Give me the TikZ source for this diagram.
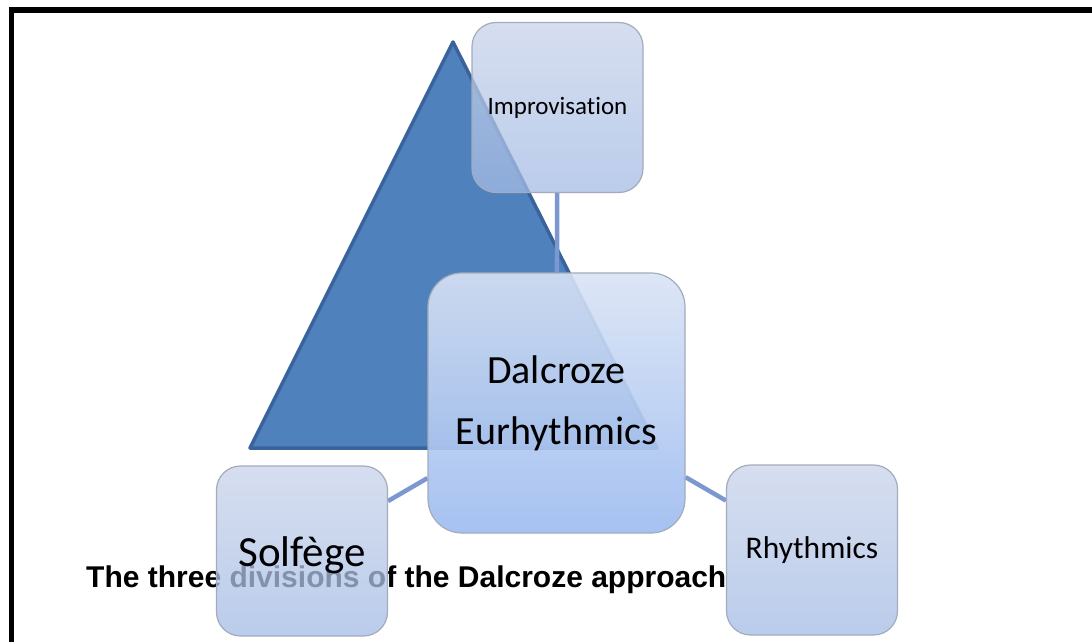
\documentclass[tikz,border=0pt]{standalone}
\usepackage{fontspec}
\newfontfamily\boxfont[Ligatures=NoCommon]{Carlito}
\newfontfamily\capfont{Liberation Sans}
\usetikzlibrary{backgrounds}

\definecolor{triblue}{HTML}{4F81BD}
\definecolor{triedge}{HTML}{3A639C}
\definecolor{linkblue}{HTML}{7B98D0}
\definecolor{boxedge}{HTML}{A3ABBC}
\definecolor{smalltop}{HTML}{C8D3E9}
\definecolor{smallbot}{HTML}{A3BBE5}
\definecolor{coretop}{HTML}{D9E3F5}
\definecolor{corebot}{HTML}{9CBBF0}

\begin{document}
\begin{tikzpicture}[
        x=1pt, y=-1pt,
        every node/.style={align=center, text=black},
        topic/.style={draw=boxedge, line width=1.2pt, rounded corners=24pt,
            minimum width=171pt, minimum height=170pt,
            top color=smalltop, bottom color=smallbot,
            fill opacity=0.75, draw opacity=1, text opacity=1},
        core/.style={topic, rounded corners=34pt,
            minimum width=257pt, minimum height=260pt,
            top color=coretop, bottom color=corebot, fill opacity=0.9},
        link/.style={draw=linkblue, line width=4.5pt},
        wedge/.style={fill=triblue, draw=triedge, line width=3.5pt, line join=round},
        frame/.style={draw=black, line width=5.5pt}
        ]

        \useasboundingbox (0,0) rectangle (1092,642);

        % Nodes
        \node[core, font=\boxfont\fontsize{40}{61}\selectfont] (dalcroze) at (556.5,403) {Dalcroze\\Eurhythmics};
        \node[topic, font=\boxfont\fontsize{25}{30}\selectfont] (improv) at (557.5,107.5) {Improvisation};
        \node[topic, font=\boxfont\fontsize{31.5}{38}\selectfont] (rhythm) at (812,550) {Rhythmics};

        % Caption (sits under the Solfege box)
        \node[anchor=base west, inner sep=0pt, font=\capfont\bfseries\fontsize{30}{36}\selectfont] (caption) at (86,587) {The three divisions of the Dalcroze approach};

        \node[topic, text height=31pt, text depth=0pt, font=\boxfont\fontsize{43}{52}\selectfont] (solfege) at (302,551) {Solfège};

        % Behind the boxes
        \begin{pgfonlayer}{background}
            \draw[frame] (11.5,660) |- (1100,10);
            \node[coordinate] (apex) at (453,42) {};
            \draw[wedge] (apex) -- (657,448) -- (250,448) -- cycle;

            % Links
            \draw[link] (improv) -- (dalcroze);
            \draw[link] (dalcroze) -- (solfege);
            \draw[link] (dalcroze) -- (rhythm);
        \end{pgfonlayer}
    \end{tikzpicture}
\end{document}
